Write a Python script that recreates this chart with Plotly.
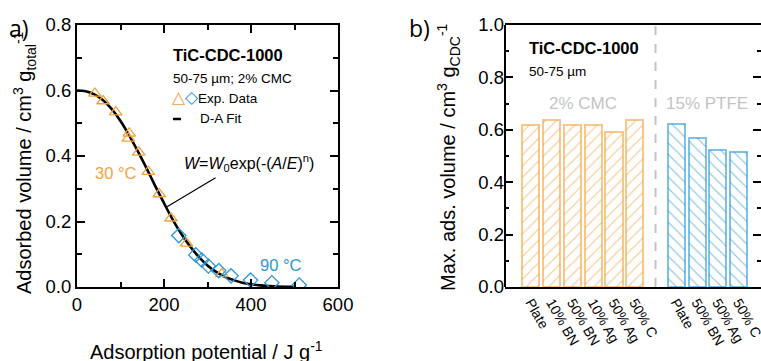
import plotly.graph_objects as go

# ---------------- data ----------------
# Panel a: experimental points (adsorption potential in J/g, adsorbed volume cm3/g)
tri_A = [41, 60, 89, 120, 118, 142, 164, 189, 216, 252, 333]
tri_W = [0.591, 0.568, 0.534, 0.469, 0.454, 0.411, 0.352, 0.284, 0.210, 0.133, 0.040]
dia_A = [234, 273, 287, 302, 326, 354, 399, 448, 511]
dia_W = [0.157, 0.098, 0.082, 0.064, 0.050, 0.034, 0.021, 0.013, 0.006]
# D-A fit curve
fit_A = [0, 20, 40, 60, 80, 100, 120, 140, 160, 180, 200, 220, 240, 260, 280,
         300, 320, 340, 360, 380, 400, 420, 440, 460, 480, 500]
fit_W = [0.600, 0.598, 0.588, 0.570, 0.543, 0.507, 0.463, 0.414, 0.362, 0.308,
         0.256, 0.206, 0.162, 0.124, 0.092, 0.066, 0.046, 0.031, 0.021, 0.013,
         0.008, 0.005, 0.003, 0.0015, 0.0008, 0.0004]

# Panel b: max. adsorbed volume per electrode
cmc_labels = ["Plate", "10% BN", "50% BN", "10% Ag", "50% Ag", "50% C"]
cmc_vals = [0.617, 0.637, 0.617, 0.617, 0.593, 0.637]
ptfe_labels = ["Plate", "50% BN", "50% Ag", "50% C"]
ptfe_vals = [0.622, 0.570, 0.523, 0.516]

# ---------------- style ----------------
FONT = "Liberation Sans, Arial, sans-serif"
ORANGE = "#F4A23C"
BLUE = "#2B98D9"
ORANGE_BAR = "rgba(244,162,60,0.6)"
BLUE_BAR = "rgba(43,152,217,0.6)"
GREY = "#C4C4C4"
W, H = 761, 361

def px(xp):
    return xp / W

def py(yp):
    return (H - yp) / H

cmc_x = list(range(len(cmc_vals)))
gap_x = len(cmc_vals)
ptfe_x = [gap_x + 1 + i for i in range(len(ptfe_vals))]

fig = go.Figure()

fig.add_trace(go.Scatter(x=fit_A, y=fit_W, mode="lines", line=dict(color="black", width=2.6, shape="spline"),
                         xaxis="x", yaxis="y", showlegend=False, hoverinfo="skip"))
fig.add_trace(go.Scatter(x=tri_A, y=tri_W, mode="markers",
                         marker=dict(symbol="triangle-up-open", size=11, color=ORANGE, line=dict(width=1.3)),
                         xaxis="x", yaxis="y", showlegend=False))
fig.add_trace(go.Scatter(x=dia_A, y=dia_W, mode="markers",
                         marker=dict(symbol="diamond-open", size=11, color=BLUE, line=dict(width=1.3)),
                         xaxis="x", yaxis="y", showlegend=False))

fig.add_trace(go.Bar(x=cmc_x, y=cmc_vals, width=0.82, xaxis="x2", yaxis="y2", showlegend=False,
                     marker=dict(color=ORANGE_BAR, line=dict(color=ORANGE_BAR, width=2),
                                 pattern=dict(shape="/", size=8, solidity=0.14, fgcolor=ORANGE_BAR,
                                              bgcolor="white", fillmode="replace"))))
fig.add_trace(go.Bar(x=ptfe_x, y=ptfe_vals, width=0.82, xaxis="x2", yaxis="y2", showlegend=False,
                     marker=dict(color=BLUE_BAR, line=dict(color=BLUE_BAR, width=2),
                                 pattern=dict(shape="\\", size=8, solidity=0.14, fgcolor=BLUE_BAR,
                                              bgcolor="white", fillmode="replace"))))

ydom = [py(287), py(25)]
tickfont = dict(family=FONT, size=18.5, color="black")
common = dict(showgrid=False, zeroline=False, linecolor="black", linewidth=2, automargin=False,
              ticks="inside", tickwidth=2, ticklen=8, tickcolor="black", tickfont=tickfont)

fig.update_layout(
    width=W, height=H, margin=dict(l=0, r=0, t=0, b=0, pad=0, autoexpand=False),
    paper_bgcolor="white", plot_bgcolor="white",
    font=dict(family=FONT, color="black"),
    bargap=0,
    xaxis=dict(domain=[px(77), px(338)], range=[0, 600], anchor="y", showline=True, mirror="ticks",
               dtick=200, tick0=0, minor=dict(dtick=100, ticks="inside", ticklen=5, tickwidth=2, tickcolor="black"),
               **common),
    yaxis=dict(domain=ydom, range=[0, 0.8], anchor="x", showline=True, mirror="ticks",
               dtick=0.2, tick0=0, tickformat=".1f",
               minor=dict(dtick=0.1, ticks="inside", ticklen=5, tickwidth=2, tickcolor="black"),
               **common),
    xaxis2=dict(domain=[px(505), 1.0], range=[-1.25, 11.08], anchor="y2", showline=True, mirror=True,
                automargin=False, ticklabeloverflow="allow",
                showgrid=False, zeroline=False, linecolor="black", linewidth=2, ticks="",
                tickmode="array", tickvals=cmc_x + ptfe_x, ticktext=cmc_labels + ptfe_labels,
                tickangle=60, tickfont=dict(family=FONT, size=14, color="black")),
    yaxis2=dict(domain=ydom, range=[0, 1.0], anchor="x2", showline=False, mirror="ticks",
                automargin=False,
                dtick=0.2, tick0=0, tickformat=".1f",
                minor=dict(dtick=0.1, ticks="inside", ticklen=4, tickwidth=2, tickcolor="black"),
                showgrid=False, zeroline=False, ticks="inside", tickwidth=2, ticklen=8,
                tickcolor="black", tickfont=tickfont),
)

# left frame line of panel b and dashed separator
fig.add_shape(type="line", xref="x2 domain", yref="y2 domain", x0=0, x1=0, y0=0, y1=1,
              line=dict(color="black", width=2))
fig.add_shape(type="line", xref="x2", yref="y2 domain", x0=gap_x, x1=gap_x, y0=0, y1=1,
              line=dict(color=GREY, width=2, dash="dash"))
# legend dash for D-A fit
fig.add_shape(type="line", xref="paper", yref="paper", x0=px(173), x1=px(181), y0=py(119), y1=py(119),
              line=dict(color="black", width=2.5))

ann = []
def A(text, x, y, size, xanchor="left", yanchor="middle", color="black", angle=0, family=FONT, xref="paper", yref="paper"):
    ann.append(dict(text=text, x=x, y=y, xref=xref, yref=yref, xanchor=xanchor, yanchor=yanchor,
                    showarrow=False, textangle=angle, font=dict(family=family, size=size, color=color)))

A("a)", px(7), py(28), 23, family="Open Sans, sans-serif")
A("b)", px(407), py(28), 23, family="Open Sans, sans-serif")
A("Adsorption potential / J g<sup>-1</sup>", px(206), py(350), 20, xanchor="center")
A("Adsorbed volume / cm<sup>3</sup> g<sub>total</sub><sup>-1</sup>", px(24), py(163), 20, xanchor="center", angle=-90)
A("Max. ads. volume / cm<sup>3</sup> g<sub>CDC</sub><sup>-1</sup>", px(449), py(157), 20, xanchor="center", angle=-90)

A("<b>TiC-CDC-1000</b>", px(171), py(55), 16.5)
A("50-75 µm; 2% CMC", px(171), py(78), 13.5)
A("<span style='color:%s;font-size:17px'>△</span><span style='color:%s;font-size:17px'>◇</span>Exp. Data"
  % (ORANGE, BLUE), px(170), py(98), 13.5)
A("D-A Fit", px(198), py(119), 13.5)
A("<i>W</i>=<i>W</i><sub>0</sub>exp(-(<i>A</i>/<i>E</i>)<sup>n</sup>)", px(182), py(163), 16)
A("30 °C", px(116), py(173), 16.5, xanchor="center", color=ORANGE)
A("90 °C", px(281), py(265), 16.5, xanchor="center", color=BLUE)

A("<b>TiC-CDC-1000</b>", px(527), py(48), 16.5)
A("50-75 µm", px(527), py(71), 13.5)
A("2% CMC", (cmc_x[0] + cmc_x[-1]) / 2, 0.70, 17, xanchor="center", color=GREY, xref="x2", yref="y2")
A("15% PTFE", (ptfe_x[0] + ptfe_x[-1]) / 2, 0.70, 17, xanchor="center", color=GREY, xref="x2", yref="y2")

# pointer from the equation to the fit curve
ann.append(dict(text="", x=207, y=0.245, xref="x", yref="y", ax=322, ay=0.336, axref="x", ayref="y",
                showarrow=True, arrowhead=0, arrowwidth=1.2, arrowcolor="black"))

fig.update_layout(annotations=ann)
fig.write_html("out.html", config={"displayModeBar": False},
               post_script="document.body.style.margin='0px';")
